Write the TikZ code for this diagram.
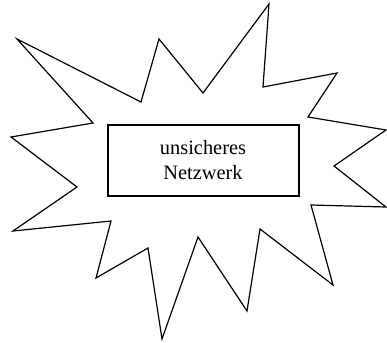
\documentclass[tikz,border=0pt]{standalone}
\usepackage{fontspec}
\setmainfont{Liberation Serif}
\usetikzlibrary{positioning}

\begin{document}
\begin{tikzpicture}[
    x=1pt, y=-1pt,
    burst/.style={draw, line width=1.2pt, line join=miter},
    box/.style={rectangle, draw, line width=2pt, minimum width=191pt, minimum height=71pt, align=center, font=\fontsize{20.4}{25}\selectfont}
]
\useasboundingbox (0,0) rectangle (387,342);
% explosion outline
\draw[burst] (17,39) -- (141,102) -- (159,39) -- (203,93) -- (269,4) -- (263,87)
  -- (337,73) -- (308,117) -- (386,130) -- (334,166) -- (386,207) -- (311,205)
  -- (333,285) -- (260,229) -- (247,311) -- (198,237) -- (162,339) -- (148,248)
  -- (96,278) -- (111,221) -- (13,231) -- (77,187) -- (11,137) -- (93,123) -- cycle;
\node[box] (netz) at (203,160) {unsicheres\\Netzwerk};
\end{tikzpicture}
\end{document}
